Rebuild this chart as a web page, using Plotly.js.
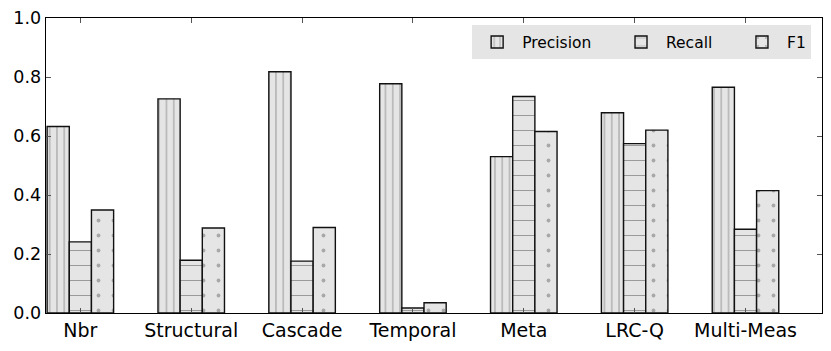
<!DOCTYPE html>
<html>
<head>
<meta charset="utf-8">
<script src="https://cdn.plot.ly/plotly-3.0.1.min.js"></script>
<style>
  html, body { margin: 0; padding: 0; background: #fff; }
  #chart { width: 831px; height: 351px; }
</style>
</head>
<body>
<div id="chart"></div>
<script>
// categories and scores
const METHODS = ["Nbr", "Structural", "Cascade", "Temporal", "Meta", "LRC-Q", "Multi-Meas"];
const PRECISION = [0.632, 0.726, 0.818, 0.777, 0.530, 0.679, 0.765];
const RECALL    = [0.241, 0.179, 0.176, 0.017, 0.734, 0.574, 0.284];
const F1        = [0.349, 0.288, 0.290, 0.035, 0.615, 0.620, 0.415];
const Y_TICKS   = [0, 0.2, 0.4, 0.6, 0.8, 1.0];

const FILL = "#e5e5e5";
const EDGE = {color: "#111", width: 1.4};
const PAD = "\u00a0\u00a0\u00a0\u00a0";   // extra room between legend entries

function series(name, values, shape, size, solidity, fg, offset) {
     return {
          type: "bar",
          name: name,
          x: METHODS.map((m, i) => i),
          y: values,
          width: 0.2,
          offset: offset,
          marker: {
               color: FILL,
               line: EDGE,
               pattern: {shape: shape, size: size, solidity: solidity,
                         fgcolor: fg, bgcolor: FILL, fillmode: "replace"}
          }
     };
}

const DATA = [
     series("Precision" + PAD, PRECISION, "|", 7.3, 0.14, "#9a9a9a", -0.3),
     series("Recall" + PAD, RECALL, "-", 15, 0.07, "#9a9a9a", -0.1),
     series("F1", F1, ".", 15, 0.05, "#a8a8a8", 0.1)
];

const LAYOUT = {
     width: 831,
     height: 351,
     margin: {l: 46, r: 9, t: 18, b: 38},
     paper_bgcolor: "#fff",
     plot_bgcolor: "#fff",
     font: {family: "DejaVu Sans", color: "#000", size: 16},
     showlegend: true,
     legend: {
          orientation: "h",
          x: 0.986, xanchor: "right",
          y: 0.975, yanchor: "top",
          bgcolor: FILL,
          font: {size: 15.5},
          itemwidth: 40
     },
     xaxis: {
          range: [-0.31, 6.69],
          tickvals: METHODS.map((m, i) => i),
          ticktext: METHODS,
          ticks: "inside", ticklen: 5, tickcolor: "#555",
          showline: true, linecolor: "#000", linewidth: 1.3,
          mirror: "ticks",
          showgrid: false, zeroline: false,
          tickfont: {size: 19}
     },
     yaxis: {
          range: [0, 1.0],
          tickvals: Y_TICKS,
          ticktext: Y_TICKS.map(v => v.toFixed(1)),
          ticks: "inside", ticklen: 5, tickcolor: "#555",
          showline: true, linecolor: "#000", linewidth: 1.3,
          mirror: "ticks",
          showgrid: false, zeroline: false,
          tickfont: {size: 17.5}
     }
};

Plotly.newPlot("chart", DATA, LAYOUT, {displayModeBar: false, staticPlot: true});
</script>
</body>
</html>
